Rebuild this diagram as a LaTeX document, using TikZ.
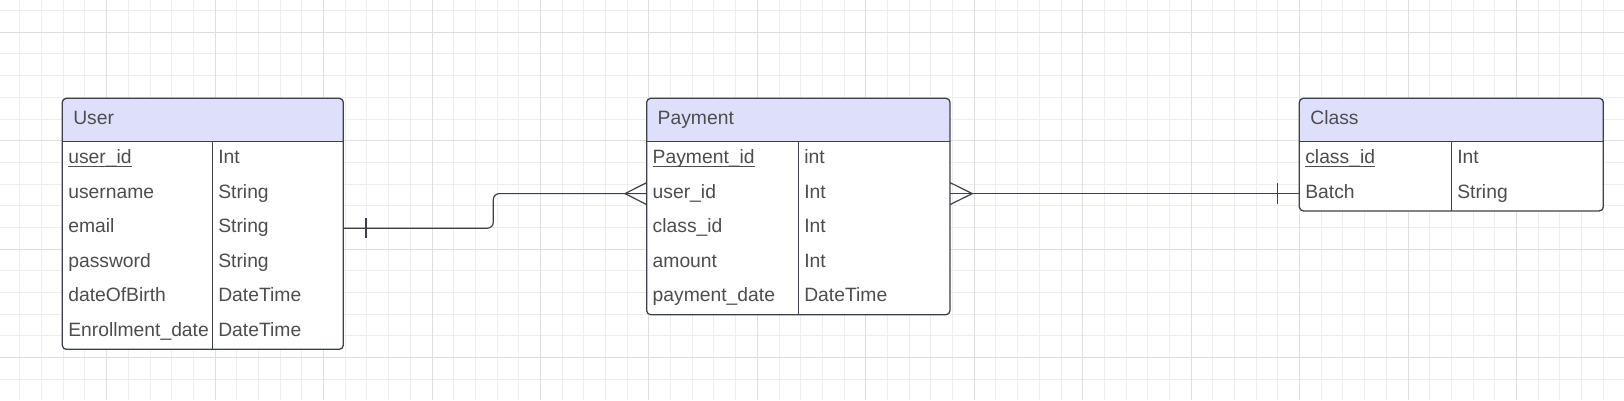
\documentclass[tikz,border=0pt]{standalone}
\usepackage{fontspec}
\setmainfont{Liberation Sans}
\usetikzlibrary{positioning}

\definecolor{headfill}{HTML}{DEDFFB}
\definecolor{edgecol}{HTML}{3C4048}
\definecolor{inkcol}{HTML}{4D4D4D}
\definecolor{minorgray}{HTML}{EDEDED}
\definecolor{majorgray}{HTML}{DEDEDE}

% primary key: underline at a fixed depth
\newcommand{\pkey}[1]{\setbox0=\hbox{#1}\rlap{\rule[-4pt]{\wd0}{1.3pt}}\box0}

\tikzset{
  minorline/.style={draw=minorgray, line width=1pt},
  majorline/.style={draw=majorgray, line width=1pt},
  head/.style={anchor=north west, text width=#1, minimum height=43.4pt, inner xsep=11pt, inner ysep=0pt,
    outer sep=0pt, text height=12.3pt, text depth=3.5pt, align=left, text=inkcol, fill=headfill, rounded corners=4pt},
  cell/.style={anchor=north west, text width=#1, minimum height=34.6pt, inner xsep=6pt, inner ysep=0pt,
    outer sep=0pt, text height=12.3pt, text depth=3.5pt, align=left, text=inkcol, fill=white},
  edge/.style={draw=edgecol, line width=1.3pt},
  rel/.style={draw=edgecol, line width=1.2pt}
}

\begin{document}
\begin{tikzpicture}[x=1pt, y=-1pt, font=\fontsize{19.3}{23}\selectfont]

\useasboundingbox[fill=white] (0,0) rectangle (1624,400);

% grid
\foreach \i in {0,...,75} {
  \pgfmathsetmacro\gx{-1.8+21.69*\i}
  \draw[minorline] (\gx,0) -- (\gx,400);
}
\foreach \j in {0,...,17} {
  \pgfmathsetmacro\gy{10.6+21.69*\j}
  \draw[minorline] (0,\gy) -- (1624,\gy);
}
\foreach \i in {0,...,15} {
  \pgfmathsetmacro\gx{-1.8+108.45*\i}
  \draw[majorline] (\gx,0) -- (\gx,400);
}
\foreach \j in {0,...,3} {
  \pgfmathsetmacro\gy{32.3+108.45*\j}
  \draw[majorline] (0,\gy) -- (1624,\gy);
}

% User
\node[head=259pt] (user-head) at (62.3,98.3) {User};
\fill[headfill] ([yshift=5pt]user-head.south west) rectangle (user-head.south east);
\node[cell=138pt] (user-id) at (user-head.south west) {\pkey{user\_id}};
\node[cell=119pt, right=0pt of user-id] (user-id-type) {Int};
\node[cell=138pt, below=0pt of user-id] (user-username) {username};
\node[cell=119pt, right=0pt of user-username] (user-username-type) {String};
\node[cell=138pt, below=0pt of user-username] (user-email) {email};
\node[cell=119pt, right=0pt of user-email] (user-email-type) {String};
\node[cell=138pt, below=0pt of user-email] (user-password) {password};
\node[cell=119pt, right=0pt of user-password] (user-password-type) {String};
\node[cell=138pt, below=0pt of user-password] (user-dob) {dateOfBirth};
\node[cell=119pt, right=0pt of user-dob] (user-dob-type) {DateTime};
\node[cell=138pt, below=0pt of user-dob] (user-enroll) {Enrollment\_date};
\node[cell=119pt, right=0pt of user-enroll] (user-enroll-type) {DateTime};
\draw[edge] (user-head.south west) -- (user-head.south east);
\draw[edge] (user-id.north east) -- (user-enroll.south east);
\draw[edge, rounded corners=4pt] (user-head.north west) rectangle (user-enroll-type.south east);

% Payment
\node[head=281.3pt] (payment-head) at (646.7,98.3) {Payment};
\fill[headfill] ([yshift=5pt]payment-head.south west) rectangle (payment-head.south east);
\node[cell=139.6pt] (payment-id) at (payment-head.south west) {\pkey{Payment\_id}};
\node[cell=139.7pt, right=0pt of payment-id] (payment-id-type) {int};
\node[cell=139.6pt, below=0pt of payment-id] (payment-userid) {user\_id};
\node[cell=139.7pt, right=0pt of payment-userid] (payment-userid-type) {Int};
\node[cell=139.6pt, below=0pt of payment-userid] (payment-classid) {class\_id};
\node[cell=139.7pt, right=0pt of payment-classid] (payment-classid-type) {Int};
\node[cell=139.6pt, below=0pt of payment-classid] (payment-amount) {amount};
\node[cell=139.7pt, right=0pt of payment-amount] (payment-amount-type) {Int};
\node[cell=139.6pt, below=0pt of payment-amount] (payment-date) {payment\_date};
\node[cell=139.7pt, right=0pt of payment-date] (payment-date-type) {DateTime};
\draw[edge] (payment-head.south west) -- (payment-head.south east);
\draw[edge] (payment-id.north east) -- (payment-date.south east);
\draw[edge, rounded corners=4pt] (payment-head.north west) rectangle (payment-date-type.south east);

% Class
\node[head=282pt] (class-head) at (1299.3,98.3) {Class};
\fill[headfill] ([yshift=5pt]class-head.south west) rectangle (class-head.south east);
\node[cell=140pt] (class-id) at (class-head.south west) {\pkey{class\_id}};
\node[cell=140pt, right=0pt of class-id] (class-id-type) {Int};
\node[cell=140pt, below=0pt of class-id] (class-batch) {Batch};
\node[cell=140pt, right=0pt of class-batch] (class-batch-type) {String};
\draw[edge] (class-head.south west) -- (class-head.south east);
\draw[edge] (class-id.north east) -- (class-batch.south east);
\draw[edge, rounded corners=4pt] (class-head.north west) rectangle (class-batch-type.south east);

% User (one) -- Payment (many)
\draw[rel, rounded corners=6pt] (user-email-type.east) -- ++(150,0) |- (payment-userid.west);
\draw[rel] ([xshift=22.7pt]user-email-type.east) ++(0,-10) -- ++(0,20);
\draw[rel] (payment-userid.west) ++(0,-11) -- ++(-21.7,11) -- ++(21.7,11);

% Payment (many) -- Class (one)
\draw[rel] (payment-userid-type.east) -- (class-batch.west);
\draw[rel] (payment-userid-type.east) ++(0,-11) -- ++(22.3,11) -- ++(-22.3,11);
\draw[rel] ([xshift=-22pt]class-batch.west) ++(0,-10.5) -- ++(0,21);

\end{tikzpicture}
\end{document}
